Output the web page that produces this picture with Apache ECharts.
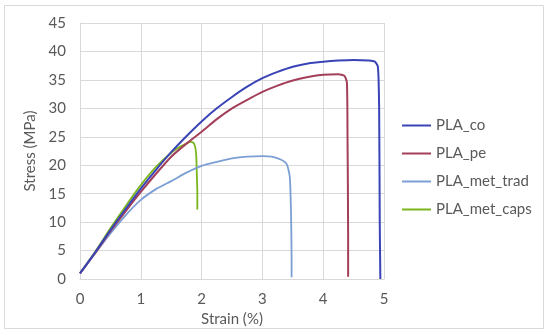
<!DOCTYPE html>
<html>
<head>
<meta charset="utf-8">
<script src="https://cdn.jsdelivr.net/npm/echarts@6/dist/echarts.min.js"></script>
<style>
html,body{margin:0;padding:0;background:#fff;}
#c{width:550px;height:334px;}
</style>
</head>
<body>
<div id="c"></div>
<script>
const seriesNames = ['PLA_co', 'PLA_pe', 'PLA_met_trad', 'PLA_met_caps'];
const xTicks = [0, 1, 2, 3, 4, 5];
const yTicks = [0, 5, 10, 15, 20, 25, 30, 35, 40, 45];

const coStrain = [0, 0.25, 0.5, 0.75, 1, 1.25, 1.5, 1.75, 2, 2.25, 2.5, 2.75, 3, 3.25, 3.5, 3.75, 4, 4.25, 4.5, 4.75, 4.85, 4.9, 4.92, 4.93, 4.94];
const coStress = [1, 4.7, 8.6, 12.3, 15.9, 19.2, 22.3, 25.1, 27.7, 30, 32, 33.8, 35.3, 36.4, 37.3, 37.9, 38.2, 38.4, 38.5, 38.4, 38.2, 37.3, 30, 10, 0];

const peStrain = [0, 0.25, 0.5, 0.75, 1, 1.25, 1.5, 1.75, 2, 2.25, 2.5, 2.75, 3, 3.25, 3.5, 3.75, 4, 4.25, 4.35, 4.39, 4.4, 4.41, 4.41];
const peStress = [1, 4.6, 8.4, 11.9, 15.3, 18.5, 21.5, 23.8, 25.9, 28.1, 30, 31.5, 32.9, 34, 34.9, 35.5, 35.9, 36.0, 35.7, 34.5, 25, 8, 0.4];

const tradStrain = [0, 0.25, 0.5, 0.75, 1, 1.25, 1.5, 1.75, 2, 2.25, 2.5, 2.75, 3, 3.15, 3.3, 3.4, 3.45, 3.47, 3.48, 3.48];
const tradStress = [1, 4.5, 8.0, 11.2, 13.9, 15.8, 17.2, 18.7, 19.9, 20.6, 21.2, 21.5, 21.6, 21.5, 21.0, 20.2, 18, 12, 4, 0.3];

const capsStrain = [0, 0.25, 0.5, 0.75, 1, 1.25, 1.5, 1.65, 1.75, 1.81, 1.86, 1.89, 1.91, 1.92, 1.93, 1.93];
const capsStress = [1, 4.8, 8.9, 12.8, 16.5, 19.7, 22.2, 23.3, 23.8, 24.1, 24.0, 23.4, 22, 19, 15, 12.2];

const colors = ['#3a44b6', '#a33f58', '#7b9fd4', '#7ab51d'];
const widths = [2, 2, 1.8, 1.8];

function pairs(xs, ys) { return xs.map((x, i) => [x, ys[i]]); }
const allData = [
  pairs(coStrain, coStress),
  pairs(peStrain, peStress),
  pairs(tradStrain, tradStress),
  pairs(capsStrain, capsStress)
];

const font = 'Lato, "Open Sans", sans-serif';
const textColor = '#595959';

const chart = echarts.init(document.getElementById('c'), null, {renderer: 'canvas'});
chart.setOption({
  animation: false,
  backgroundColor: '#fff',
  grid: {left: 80, right: 166, top: 23, bottom: 55},
  graphic: [{
    type: 'rect',
    shape: {x: 4.5, y: 5.5, width: 539, height: 323},
    style: {fill: 'none', stroke: '#d9d9d9', lineWidth: 1},
    silent: true
  }],
  legend: {
    orient: 'vertical',
    left: 397,
    top: 113,
    padding: 5,
    itemWidth: 29,
    itemHeight: 2,
    itemGap: 13,
    textStyle: {fontFamily: font, fontSize: 15, color: textColor},
    data: seriesNames.map(n => ({name: n, icon: 'rect'}))
  },
  xAxis: {
    type: 'value',
    min: xTicks[0], max: xTicks[xTicks.length - 1], interval: 1,
    name: 'Strain (%)',
    nameLocation: 'middle',
    nameGap: 30,
    nameTextStyle: {fontFamily: font, fontSize: 15, color: textColor},
    axisLine: {show: true, lineStyle: {color: '#d9d9d9'}},
    axisTick: {show: false},
    axisLabel: {margin: 13, fontFamily: font, fontSize: 15, color: textColor},
    splitLine: {show: true, lineStyle: {color: '#d9d9d9', width: 1}}
  },
  yAxis: {
    type: 'value',
    min: yTicks[0], max: yTicks[yTicks.length - 1], interval: 5,
    name: 'Stress (MPa)',
    nameLocation: 'middle',
    nameGap: 36,
    nameTextStyle: {fontFamily: font, fontSize: 15, color: textColor},
    axisLine: {show: true, lineStyle: {color: '#d9d9d9'}},
    axisTick: {show: false},
    axisLabel: {margin: 14, fontFamily: font, fontSize: 15, color: textColor},
    splitLine: {show: true, lineStyle: {color: '#d9d9d9', width: 1}}
  },
  series: seriesNames.map((n, i) => ({
    name: n,
    type: 'line',
    data: allData[i],
    symbol: 'none',
    smooth: 0.2,
    color: colors[i],
    lineStyle: {color: colors[i], width: widths[i]},
    z: 10 - i
  }))
});
</script>
</body>
</html>
